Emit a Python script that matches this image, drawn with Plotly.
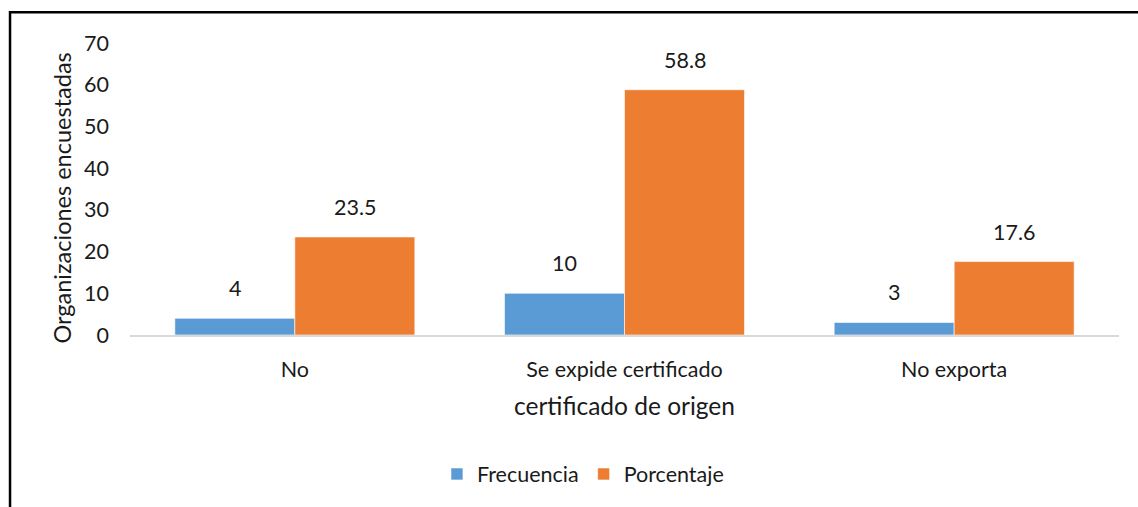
import plotly.graph_objects as go

categories = ["No", "Se expide certificado", "No exporta"]
frecuencia = [4, 10, 3]
porcentaje = [23.5, 58.8, 17.6]
y_ticks = [0, 10, 20, 30, 40, 50, 60, 70]

BLUE = "#5B9BD5"
ORANGE = "#ED7D31"
FONT = "Lato, 'Open Sans', sans-serif"
TEXT = "#1a1a1a"
TICK_SIZE = 21.5
TITLE_SIZE = 24.5

fig = go.Figure()
fig.add_trace(go.Bar(name="Frecuencia", x=categories, y=frecuencia,
                     marker=dict(color=BLUE, line=dict(color="white", width=0.6))))
fig.add_trace(go.Bar(name="Porcentaje", x=categories, y=porcentaje,
                     marker=dict(color=ORANGE, line=dict(color="white", width=0.6))))

# value labels above each bar
annotations = []
for i, cat in enumerate(categories):
    for off, vals in ((-0.182, frecuencia), (0.182, porcentaje)):
        v = vals[i]
        annotations.append(dict(
            x=i + off, y=v, xref="x", yref="y", text=str(v),
            showarrow=False, yanchor="bottom", yshift=15,
            font=dict(family=FONT, size=TICK_SIZE, color=TEXT)))

annotations.append(dict(x=0.5, y=-0.24, xref="paper", yref="paper",
                        text="certificado de origen", showarrow=False,
                        xanchor="center", yanchor="middle",
                        font=dict(family=FONT, size=TITLE_SIZE, color=TEXT)))
annotations.append(dict(x=-0.069, y=0.47, xref="paper", yref="paper",
                        text="Organizaciones encuestadas", showarrow=False,
                        textangle=-90, xanchor="center", yanchor="middle",
                        font=dict(family=FONT, size=TITLE_SIZE - 1, color=TEXT)))

fig.update_layout(
    width=1138, height=507,
    margin=dict(l=130, r=19, t=43, b=170),
    paper_bgcolor="white", plot_bgcolor="white",
    barmode="group", bargap=0.272, bargroupgap=0,
    font=dict(family=FONT, size=TICK_SIZE, color=TEXT),
    xaxis=dict(showline=True, linecolor="#D9D9D9", linewidth=2,
               showgrid=False, ticks="", ticklabelstandoff=14,
               tickfont=dict(family=FONT, size=TICK_SIZE, color=TEXT)),
    yaxis=dict(range=[0, 70], tickvals=y_ticks, showgrid=False,
               zeroline=False, showline=False, ticks="",
               ticklabelstandoff=20,
               tickfont=dict(family=FONT, size=TICK_SIZE, color=TEXT)),
    legend=dict(orientation="h", x=0.458, y=-0.476, xanchor="center",
                yanchor="middle", font=dict(family=FONT, size=TICK_SIZE, color=TEXT),
                itemwidth=30, traceorder="normal"),
    annotations=annotations,
    shapes=[dict(type="rect", xref="paper", yref="paper",
                 x0=-0.1213, y0=-1.0, x1=1.2, y1=1.105,
                 line=dict(color="black", width=2.5), layer="above")],
)

fig.write_html("out.html")
